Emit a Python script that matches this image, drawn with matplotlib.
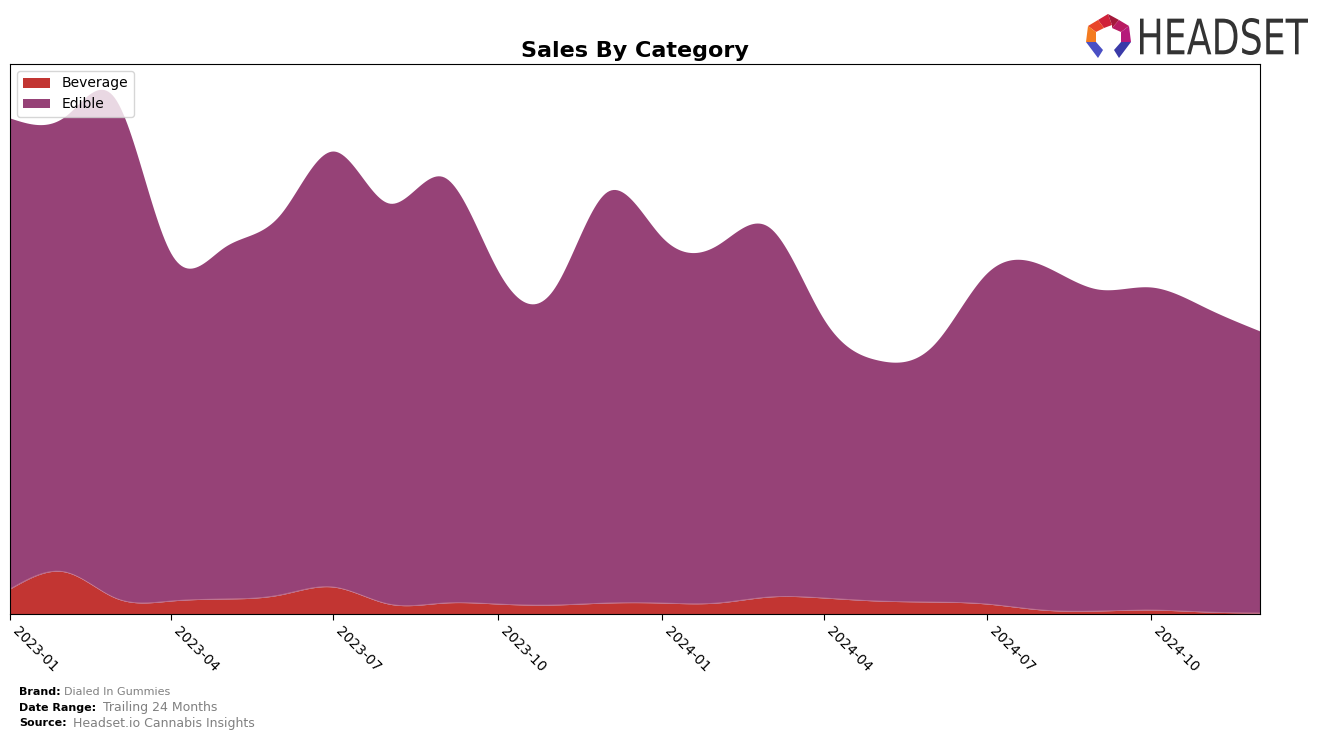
import matplotlib
matplotlib.use('Agg')
import matplotlib.pyplot as plt
import matplotlib.dates as mdates
from matplotlib.textpath import TextPath
from matplotlib.patches import PathPatch, Polygon
from matplotlib.font_manager import FontProperties
import matplotlib.transforms as mtransforms
import numpy as np
import pandas as pd

# monthly values (arbitrary units)
months = pd.date_range('2023-01-01', '2024-12-01', freq='MS')
beverage = [25, 42, 16, 13, 15, 19, 27, 10, 11, 10, 9, 11,
            11, 11, 17, 16, 13, 12, 10, 4, 3, 4, 2, 1]
edible = [471, 456, 499, 348, 352, 380, 436, 401, 426, 334, 315, 411,
          366, 358, 370, 278, 241, 257, 331, 345, 322, 323, 304, 282]
categories = ['Beverage', 'Edible']
colors = ['#c23532', '#964277']
tick_months = pd.date_range('2023-01-01', '2024-10-01', freq='3MS')


def smooth(x, y, n=600):
    # natural cubic spline through the monthly points
    x = np.asarray(x, float)
    y = np.asarray(y, float)
    m = len(x)
    h = np.diff(x)
    A = np.zeros((m, m))
    r = np.zeros(m)
    A[0, 0] = A[-1, -1] = 1
    for i in range(1, m - 1):
        A[i, i - 1] = h[i - 1]
        A[i, i] = 2 * (h[i - 1] + h[i])
        A[i, i + 1] = h[i]
        r[i] = 6 * ((y[i + 1] - y[i]) / h[i] - (y[i] - y[i - 1]) / h[i - 1])
    M = np.linalg.solve(A, r)
    xs = np.linspace(x[0], x[-1], n)
    idx = np.clip(np.searchsorted(x, xs) - 1, 0, m - 2)
    x0, x1 = x[idx], x[idx + 1]
    hh = x1 - x0
    a = (x1 - xs) / hh
    b = (xs - x0) / hh
    ys = a * y[idx] + b * y[idx + 1] + ((a ** 3 - a) * M[idx] + (b ** 3 - b) * M[idx + 1]) * hh ** 2 / 6
    return xs, ys


fig = plt.figure(figsize=(13.24, 7.39), dpi=100)
ax = fig.add_axes([10 / 1324, 125 / 739, 1250 / 1324, 550 / 739])

xnum = mdates.date2num(months)
xs, bev_s = smooth(xnum, beverage)
_, edi_s = smooth(xnum, edible)
bev_s = np.clip(bev_s, 0, None)
edi_s = np.clip(edi_s, 0, None)

ax.fill_between(xs, 0, bev_s, color=colors[0], label=categories[0], lw=0)
ax.fill_between(xs, bev_s, bev_s + edi_s, color=colors[1], label=categories[1], lw=0)
ax.plot(xs, bev_s, color='#d98a9a', lw=0.6, alpha=0.6)

ax.set_xlim(xnum[0], xnum[-1])
ax.set_ylim(0, 550)
ax.set_yticks([])
ax.set_xticks(mdates.date2num(tick_months))
ax.set_xticklabels([d.strftime('%Y-%m') for d in tick_months], rotation=-45, ha='left',
                   fontsize=10)
ax.tick_params(axis='x', length=4)
ax.set_title('Sales By Category', fontsize=16, fontweight='bold', pad=5)
ax.legend(loc='upper left', fontsize=10, handlelength=2, framealpha=0.8)

# footer
fig.text(19 / 1324, 1 - 692 / 739, 'Brand:', fontsize=8, fontweight='bold', va='center')
fig.text(64 / 1324, 1 - 692 / 739, 'Dialed In Gummies', fontsize=8, color='gray', va='center')
fig.text(19 / 1324, 1 - 708 / 739, 'Date Range:', fontsize=8, fontweight='bold', va='center')
fig.text(103 / 1324, 1 - 708 / 739, 'Trailing 24 Months', fontsize=9, color='gray', va='center')
fig.text(19 / 1324, 1 - 723 / 739, 'Source:', fontsize=8, fontweight='bold', va='center')
fig.text(73 / 1324, 1 - 723 / 739, 'Headset.io Cannabis Insights', fontsize=9, color='gray', va='center')

# logo, drawn in pixel coordinates (y down)
lax = fig.add_axes([0, 0, 1, 1], zorder=5)
lax.set_xlim(0, 1324)
lax.set_ylim(739, 0)
lax.axis('off')
lax.patch.set_alpha(0)
logo_parts = [
    ([(1098, 20), (1108, 14), (1112, 25), (1104, 28)], '#d0223a'),
    ([(1108, 14), (1119, 20), (1112, 28), (1112, 25)], '#a3183a'),
    ([(1119, 20), (1129, 26), (1121, 32), (1112, 28)], '#b81b62'),
    ([(1098, 20), (1104, 28), (1096, 32), (1088, 26)], '#e8452a'),
    ([(1088, 26), (1096, 32), (1096, 42), (1086, 42)], '#f47b20'),
    ([(1129, 26), (1131, 42), (1121, 42), (1121, 32)], '#b5197a'),
    ([(1086, 42), (1096, 42), (1103, 50), (1098, 58)], '#4a4fc4'),
    ([(1131, 42), (1121, 42), (1114, 50), (1119, 58)], '#3a3aa8'),
]
for pts, c in logo_parts:
    lax.add_patch(Polygon(pts, closed=True, color=c, lw=0))

fp = FontProperties(family='DejaVu Sans')
tp = TextPath((0, 0), 'HEADSET', size=50, prop=fp)
bb = tp.get_extents()
sx = 168 / bb.width
sy = 37 / bb.height
tr = mtransforms.Affine2D().translate(-bb.x0, -bb.y0).scale(sx, -sy).translate(1140, 55)
lax.add_patch(PathPatch(tr.transform_path(tp), color='#333333', lw=0))

fig.savefig('out.png', dpi=100)
